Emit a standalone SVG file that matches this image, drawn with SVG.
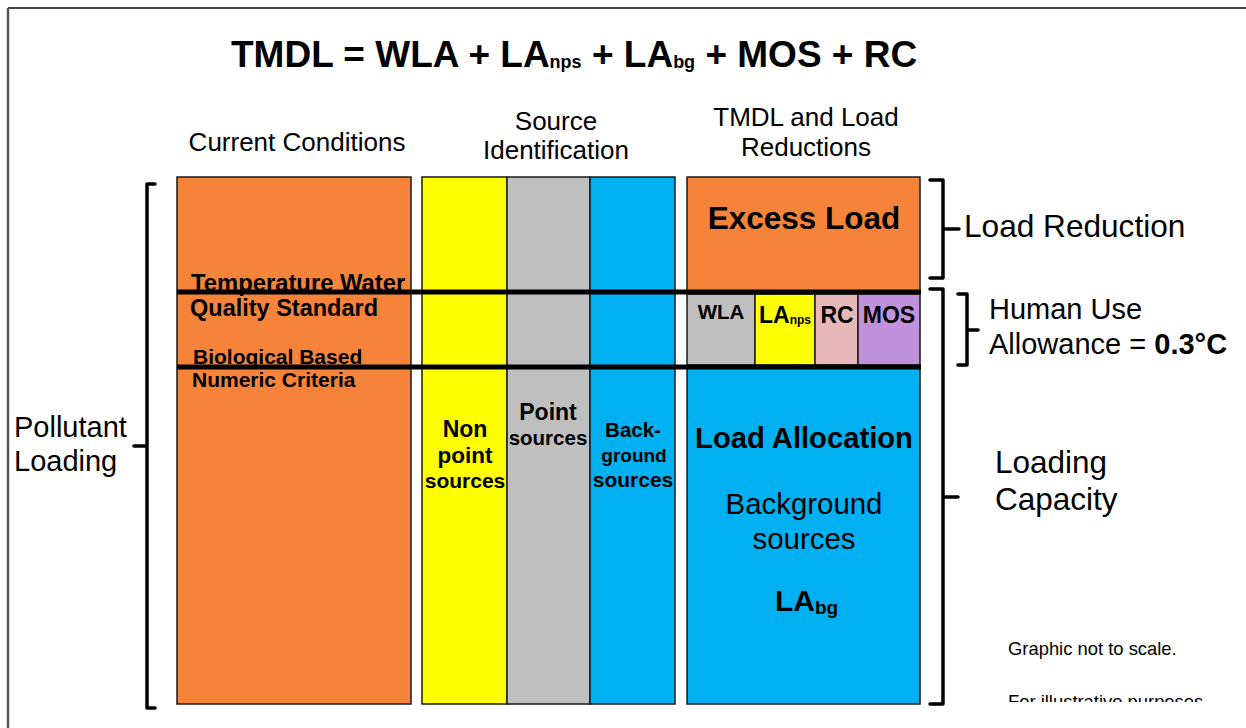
<svg xmlns="http://www.w3.org/2000/svg" width="1246" height="728" viewBox="0 0 1246 728">
<style>
text{font-family:"Liberation Sans",Arial,sans-serif;fill:#000}
.b{font-weight:bold}
.box{stroke:#1a1a1a;stroke-width:1.5}
.org{fill:#F5833A}.yel{fill:#FFFF00}.gry{fill:#BFBFBF}.blu{fill:#00B0F0}.pnk{fill:#E6B9B8}.pur{fill:#C092DE}
.brace{fill:none;stroke:#000;stroke-width:3.5;stroke-linecap:round;stroke-linejoin:round}
.bar{stroke:#000;stroke-width:5}
</style>
<defs>
<clipPath id="clipNote"><rect x="990" y="600" width="256" height="102"/></clipPath>
</defs>
<rect width="1246" height="728" fill="#fff"/>
<g id="frame">
<line x1="8" y1="8" x2="1246" y2="8" stroke="#444" stroke-width="2"/>
<line x1="8" y1="8" x2="8" y2="728" stroke="#555" stroke-width="2.5"/>
</g>
<text id="title" class="b" x="231" y="67" font-size="37">TMDL = WLA + LA<tspan font-size="18" dy="1">nps</tspan><tspan dy="-1"> + LA</tspan><tspan font-size="18" dy="1">bg</tspan><tspan dy="-1"> + MOS + RC</tspan></text>
<g id="headers" font-size="26" text-anchor="middle">
<text x="297" y="151">Current Conditions</text>
<text x="556" y="130">Source</text>
<text x="556" y="159">Identification</text>
<text x="806" y="126">TMDL and Load</text>
<text x="806" y="156">Reductions</text>
</g>
<g id="current-conditions">
<rect class="box org" x="177" y="177" width="234" height="527"/>
<text class="b" x="191" y="291" font-size="23.8">Temperature Water</text>
<text class="b" x="190" y="316" font-size="23.5">Quality Standard</text>
<text class="b" x="193" y="364" font-size="21">Biological Based</text>
<text class="b" x="192" y="387" font-size="21">Numeric Criteria</text>
</g>
<g id="nonpoint">
<rect class="box yel" x="422" y="177" width="85" height="527"/>
<text class="b" x="465" y="437" font-size="23" text-anchor="middle">Non</text>
<text class="b" x="465" y="463" font-size="22.5" text-anchor="middle">point</text>
<text class="b" x="465" y="488" font-size="21" text-anchor="middle">sources</text>
</g>
<g id="point">
<rect class="box gry" x="507" y="177" width="83" height="527"/>
<text class="b" x="548" y="420" font-size="23" text-anchor="middle">Point</text>
<text class="b" x="548" y="445" font-size="20.5" text-anchor="middle">sources</text>
</g>
<g id="background">
<rect class="box blu" x="590" y="177" width="85" height="527"/>
<text class="b" x="633" y="437" font-size="20.5" text-anchor="middle">Back-</text>
<text class="b" x="634" y="462" font-size="19" text-anchor="middle">ground</text>
<text class="b" x="633" y="487" font-size="21" text-anchor="middle">sources</text>
</g>
<g id="excess-load">
<rect class="box org" x="687" y="177" width="233" height="114"/>
<text class="b" x="804" y="229" font-size="31.5" text-anchor="middle">Excess Load</text>
</g>
<g id="wla">
<rect class="box gry" x="687" y="294" width="68" height="71"/>
<text class="b" x="721" y="319" font-size="20.5" text-anchor="middle">WLA</text>
</g>
<g id="lanps">
<rect class="box yel" x="755" y="294" width="60" height="71"/>
<text class="b" x="759" y="323" font-size="23">LA<tspan font-size="12" dy="1">nps</tspan></text>
</g>
<g id="rc">
<rect class="box pnk" x="815" y="294" width="43" height="71"/>
<text class="b" x="837" y="323" font-size="23" text-anchor="middle">RC</text>
</g>
<g id="mos">
<rect class="box pur" x="858" y="294" width="62" height="71"/>
<text class="b" x="889" y="323" font-size="23" text-anchor="middle">MOS</text>
</g>
<g id="load-allocation">
<rect class="box blu" x="687" y="367" width="233" height="337"/>
<text class="b" x="804" y="448" font-size="29.2" text-anchor="middle">Load Allocation</text>
<text x="804" y="514" font-size="29.4" text-anchor="middle">Background</text>
<text x="804" y="549" font-size="29.4" text-anchor="middle">sources</text>
<text class="b" x="775" y="611" font-size="30">LA<tspan font-size="19" dy="3">bg</tspan></text>
</g>
<g id="bars">
<line class="bar" x1="177" y1="292" x2="921" y2="292"/>
<line class="bar" x1="177" y1="367" x2="921" y2="367"/>
</g>
<g id="connectors">
<path class="brace" d="M155 184 H147 V708 H155 M147 446 H134"/>
<path class="brace" d="M930 180 H943 V278 H930 M943 229 H959"/>
<path class="brace" d="M930 289 H943 V704 H930 M943 497 H958"/>
<path class="brace" d="M958 294 H967 V365 H958 M967 330 H978"/>
</g>
<g id="labels">
<text x="964" y="237" font-size="31.6">Load Reduction</text>
<text x="989" y="319" font-size="29">Human Use</text>
<text x="989" y="354" font-size="29">Allowance = <tspan class="b">0.3°C</tspan></text>
<text x="995" y="473" font-size="31.5">Loading</text>
<text x="995" y="510" font-size="31.5">Capacity</text>
<text x="14" y="437" font-size="29">Pollutant</text>
<text x="14" y="471" font-size="29">Loading</text>
<text x="1008" y="655" font-size="18.4">Graphic not to scale.</text>
<text x="1008" y="708" font-size="18.4" clip-path="url(#clipNote)">For illustrative purposes</text>
</g>
</svg>
